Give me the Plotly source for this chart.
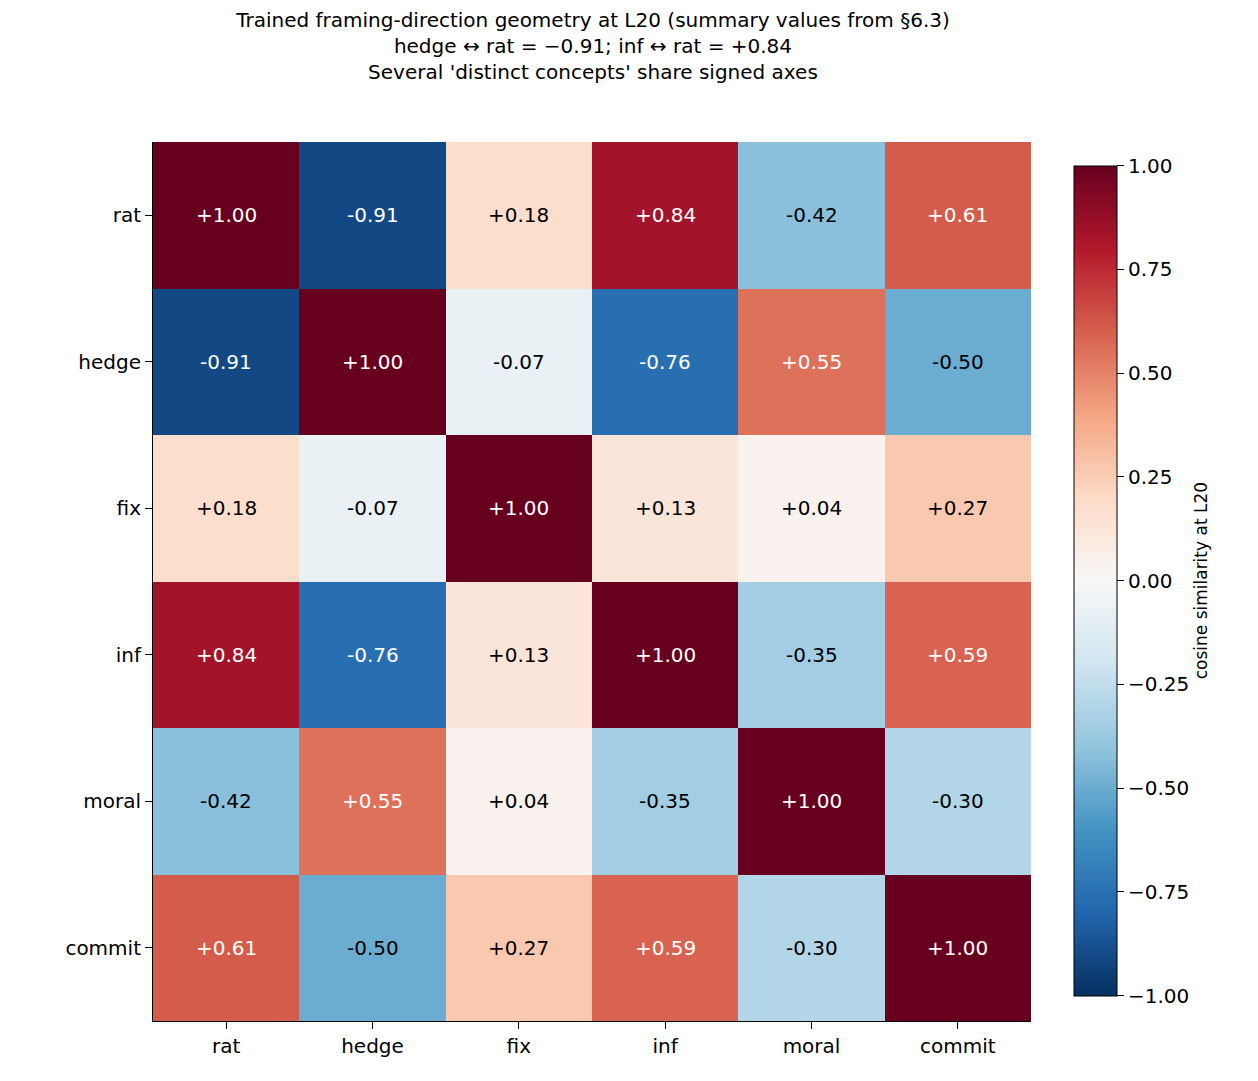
import plotly.graph_objects as go

labels = ['rat', 'hedge', 'fix', 'inf', 'moral', 'commit']
cos = [
    [1.00, -0.91, 0.18, 0.84, -0.42, 0.61],
    [-0.91, 1.00, -0.07, -0.76, 0.55, -0.50],
    [0.18, -0.07, 1.00, 0.13, 0.04, 0.27],
    [0.84, -0.76, 0.13, 1.00, -0.35, 0.59],
    [-0.42, 0.55, 0.04, -0.35, 1.00, -0.30],
    [0.61, -0.50, 0.27, 0.59, -0.30, 1.00],
]

# matplotlib RdBu_r
cols = ['#053061', '#2166ac', '#4393c3', '#92c5de', '#d1e5f0', '#f7f7f7',
        '#fddbc7', '#f4a582', '#d6604d', '#b2182b', '#67001f']
scale = [[i / 10, c] for i, c in enumerate(cols)]

fig = go.Figure()
fig.add_trace(go.Heatmap(
    z=cos, x=labels, y=labels, zmin=-1, zmax=1, colorscale=scale,
    colorbar=dict(x=1.0376, xanchor='left', y=0.501, yanchor='middle',
                  lenmode='pixels', len=850,
                  thickness=43, outlinecolor='black', outlinewidth=1,
                  tickvals=[-1, -0.75, -0.5, -0.25, 0, 0.25, 0.5, 0.75, 1],
                  ticktext=['\u22121.00', '\u22120.75', '\u22120.50', '\u22120.25', '0.00',
                            '0.25', '0.50', '0.75', '1.00'],
                  ticks='outside', ticklen=7, tickcolor='black', tickfont=dict(size=20),
                  title=dict(text='cosine similarity at L20', side='right', font=dict(size=17))),
))

for i, row in enumerate(cos):
    for j, v in enumerate(row):
        fig.add_annotation(x=labels[j], y=labels[i], text=f'{v:+.2f}', showarrow=False,
                           font=dict(size=20, color='white' if abs(v) > 0.5 else 'black'))

fig.update_layout(
    width=1258, height=1081,
    margin=dict(l=145, r=235, t=134, b=68, autoexpand=False),
    paper_bgcolor='white', plot_bgcolor='white',
    font=dict(family='DejaVu Sans', color='black'),
    title=dict(text="Trained framing-direction geometry at L20 (summary values from §6.3)<br>"
                    "hedge ↔ rat = −0.91; inf ↔ rat = +0.84<br>"
                    "Several 'distinct concepts' share signed axes",
               x=0.465, xanchor='center', y=0.982, yanchor='top', font=dict(size=20)),
    xaxis=dict(showline=True, linecolor='black', ticks='outside', ticklen=7,
               tickcolor='black', tickfont=dict(size=20)),
    yaxis=dict(showline=True, linecolor='black', ticks='outside', ticklen=7,
               tickcolor='black', tickfont=dict(size=20), autorange='reversed'),
)

fig.write_html("out.html")
